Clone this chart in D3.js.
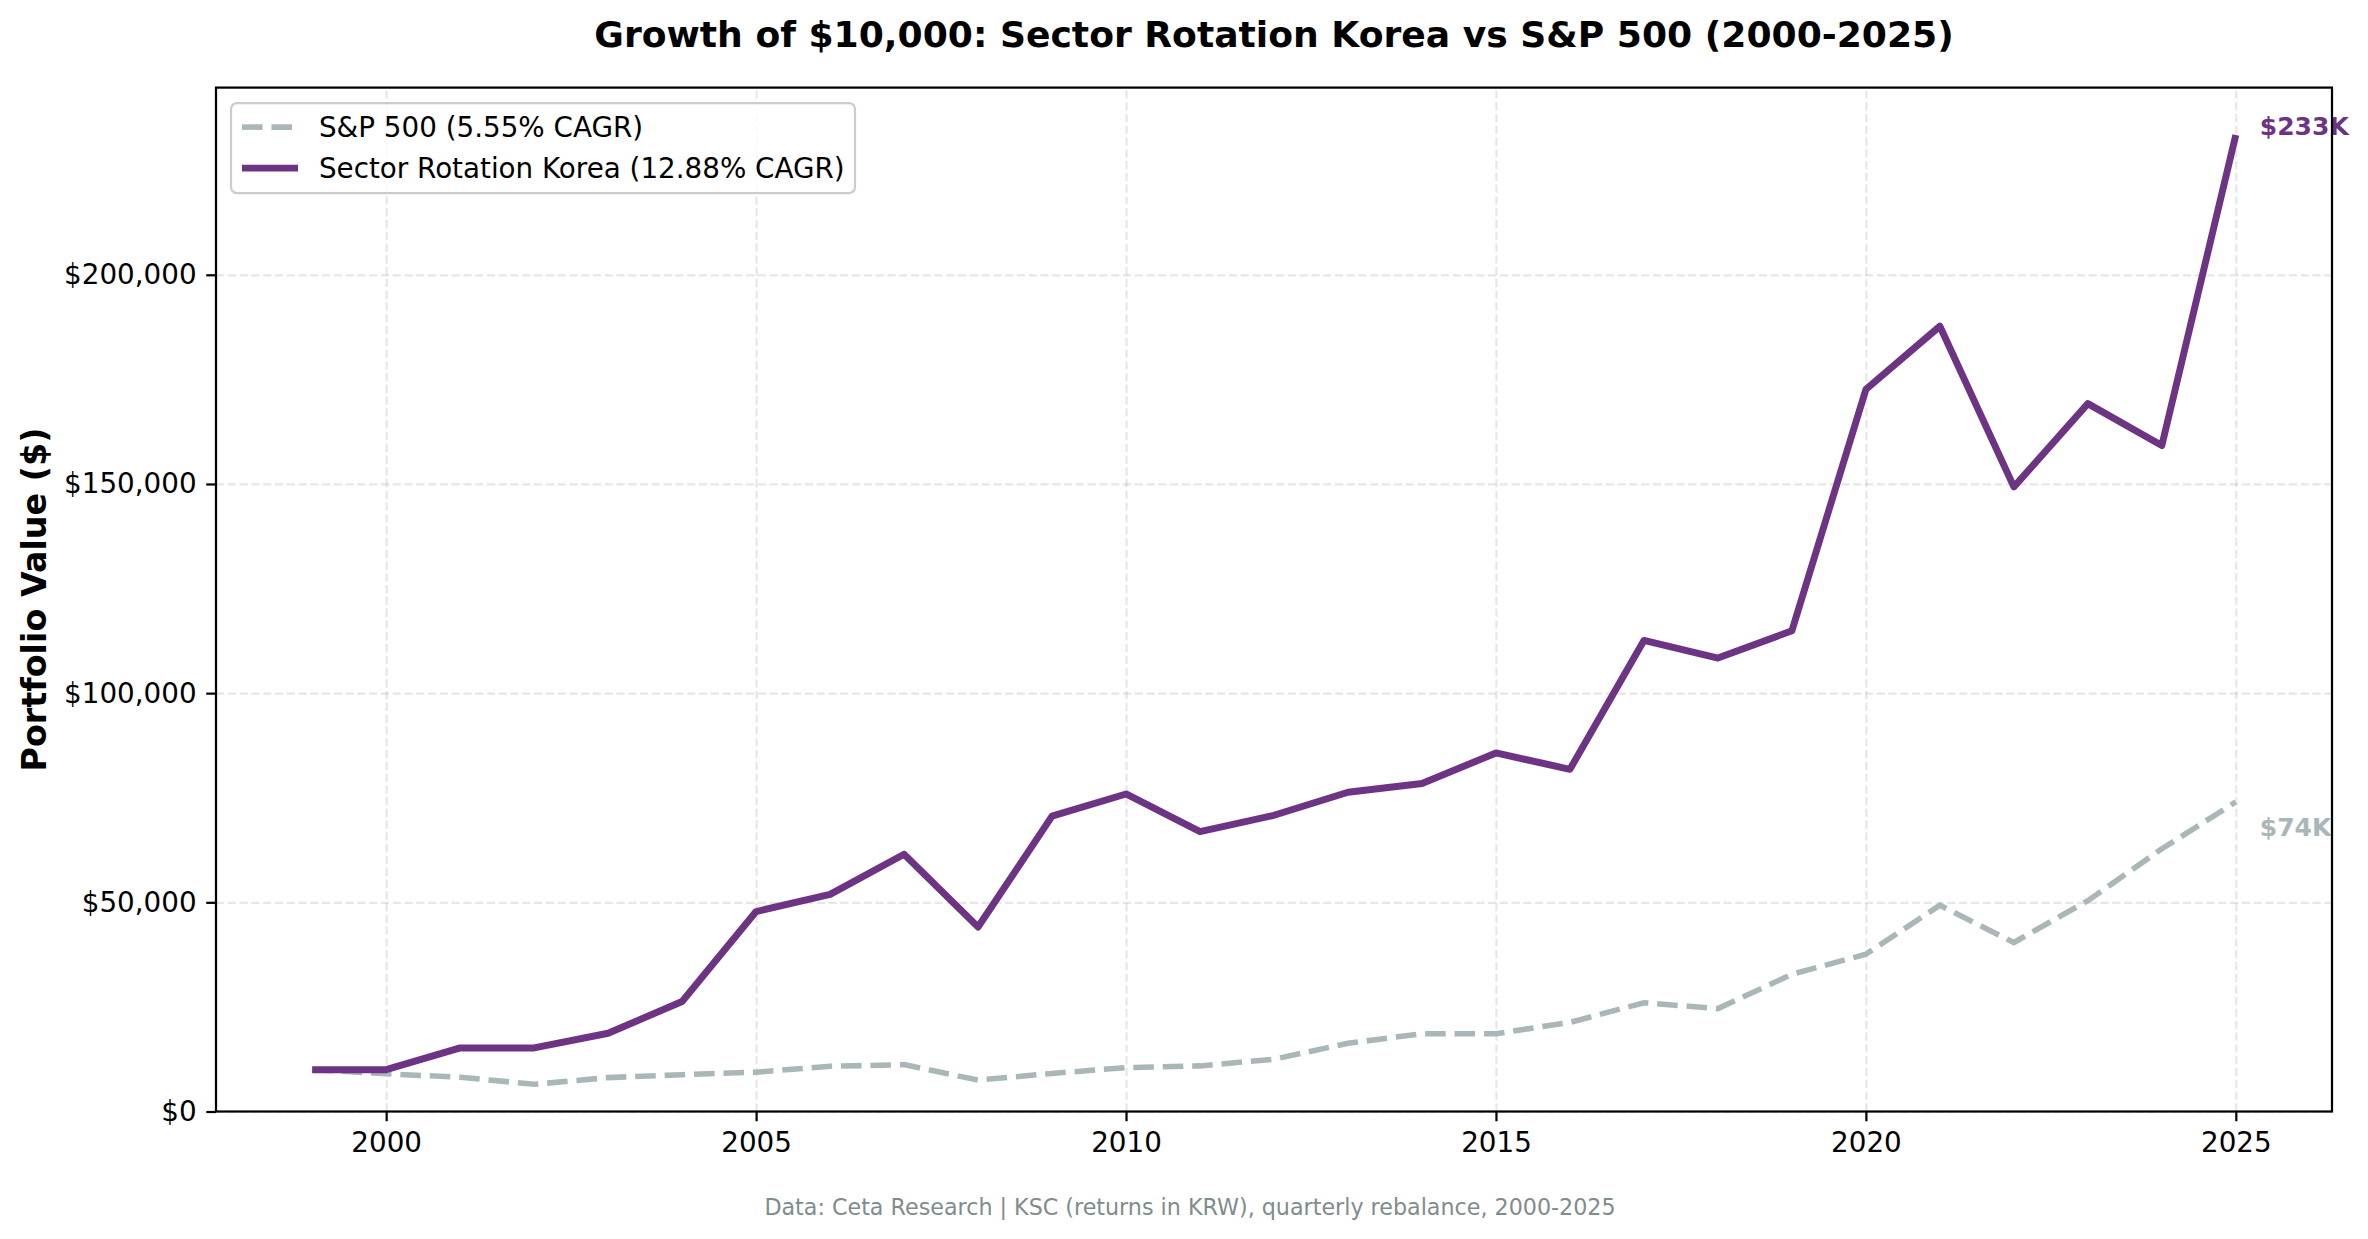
<!DOCTYPE html>
<html>
<head>
<meta charset="utf-8">
<script src="https://cdn.jsdelivr.net/npm/d3@7"></script>
<style>
  body { margin: 0; background: #fff; }
  text { font-family: "DejaVu Sans", sans-serif; }
</style>
</head>
<body>
<div class="vis-growth"></div>
<script>
const years = [1999, 2000, 2001, 2002, 2003, 2004, 2005, 2006, 2007, 2008, 2009, 2010, 2011, 2012,
    2013, 2014, 2015, 2016, 2017, 2018, 2019, 2020, 2021, 2022, 2023, 2024, 2025];
const strategyValues = [10000, 10000, 15200, 15200, 18700, 26300, 47800, 51900, 61500, 44100, 70600, 75900, 66900, 70800,
    76300, 78400, 85700, 81800, 112600, 108400, 114900, 172600, 187700, 149300, 169200, 159200, 233400];
const spValues = [10000, 9000, 8200, 6500, 8100, 8800, 9400, 10800, 11200, 7500, 9100, 10500, 10900, 12500,
    16300, 18600, 18600, 21300, 26000, 24600, 32800, 37600, 49300, 40400, 50400, 62800, 74000];
const xTicks = [2000, 2005, 2010, 2015, 2020, 2025];
const yTicks = [0, 50000, 100000, 150000, 200000];
const seriesNames = ['S&P 500 (5.55% CAGR)', 'Sector Rotation Korea (12.88% CAGR)'];
const endLabels = ['$74K', '$233K'];

const width = 2368;
const height = 1239;
const margin = { top: 87.6, right: 36, bottom: 127.5, left: 216 };
const innerWidth = width - margin.left - margin.right;
const innerHeight = height - margin.top - margin.bottom;

// sizes at 200 dpi
const pt = 200 / 72;
const purple = '#6c3483';
const grey = '#aab7b8';

const svg = d3.select('.vis-growth').append('svg')
    .attr('width', width)
    .attr('height', height)
    .style('display', 'block');

svg.append('rect').attr('width', width).attr('height', height).attr('fill', '#fff');

const allValues = strategyValues.concat(spValues);
const vMin = d3.min(allValues);
const vMax = d3.max(allValues);
const yearSpan = years[years.length - 1] - years[0];

const xScale = d3.scaleLinear()
    .domain([years[0] - 0.05 * yearSpan, years[years.length - 1] + 0.05 * yearSpan])
    .range([0, innerWidth]);

const yScale = d3.scaleLinear()
    .domain([0, vMax + 0.05 * (vMax - vMin)])
    .range([innerHeight, 0]);

const g = svg.append('g')
    .attr('transform', `translate(${margin.left},${margin.top})`);

// grid
const xGrid = g.append('g')
    .attr('transform', `translate(0,${innerHeight})`)
    .call(d3.axisBottom(xScale).tickValues(xTicks).tickSize(-innerHeight).tickFormat(''));
const yGrid = g.append('g')
    .call(d3.axisLeft(yScale).tickValues(yTicks).tickSize(-innerWidth).tickFormat(''));
[xGrid, yGrid].forEach(gr => {
    gr.select('.domain').remove();
    gr.selectAll('text').remove();
    gr.selectAll('line')
        .attr('stroke', '#b0b0b0')
        .attr('stroke-opacity', 0.3)
        .attr('stroke-width', 0.8 * pt)
        .attr('stroke-dasharray', `${2.96 * pt},${1.28 * pt}`);
});

const line = d3.line()
    .x(d => xScale(d[0]))
    .y(d => yScale(d[1]));

const spData = years.map((y, i) => [y, spValues[i]]);
const stratData = years.map((y, i) => [y, strategyValues[i]]);

const spDash = `${7.4 * pt},${3.2 * pt}`;

g.append('path')
    .datum(spData)
    .attr('d', line)
    .attr('fill', 'none')
    .attr('stroke', grey)
    .attr('stroke-width', 2 * pt)
    .attr('stroke-dasharray', spDash);

g.append('path')
    .datum(stratData)
    .attr('d', line)
    .attr('fill', 'none')
    .attr('stroke', purple)
    .attr('stroke-width', 2.5 * pt)
    .attr('stroke-linejoin', 'round');

// end labels
const lastYear = years[years.length - 1];
g.append('text')
    .attr('x', xScale(lastYear) + 24)
    .attr('y', yScale(strategyValues[strategyValues.length - 1]) - 9)
    .attr('dy', '0.35em')
    .attr('fill', purple)
    .attr('font-size', 9 * pt)
    .attr('font-weight', 'bold')
    .text(endLabels[1]);

g.append('text')
    .attr('x', xScale(lastYear) + 24)
    .attr('y', yScale(spValues[spValues.length - 1]) + 25)
    .attr('dy', '0.35em')
    .attr('fill', grey)
    .attr('font-size', 9 * pt)
    .attr('font-weight', 'bold')
    .text(endLabels[0]);

// axes
const xAxisG = g.append('g')
    .attr('transform', `translate(0,${innerHeight})`)
    .call(d3.axisBottom(xScale).tickValues(xTicks).tickSize(3.5 * pt).tickPadding(3.5 * pt).tickFormat(d3.format('d')));
const yAxisG = g.append('g')
    .call(d3.axisLeft(yScale).tickValues(yTicks).tickSize(3.5 * pt).tickPadding(3.5 * pt).tickFormat(d => '$' + d3.format(',')(d)));

[xAxisG, yAxisG].forEach(ax => {
    ax.select('.domain').remove();
    ax.selectAll('line').attr('stroke', '#000').attr('stroke-width', 0.8 * pt);
    ax.selectAll('text')
        .attr('fill', '#000')
        .attr('font-size', 10 * pt)
        .style('font-family', '"DejaVu Sans", sans-serif');
});
xAxisG.selectAll('text').attr('dy', '0.76em');

// frame
g.append('rect')
    .attr('width', innerWidth)
    .attr('height', innerHeight)
    .attr('fill', 'none')
    .attr('stroke', '#000')
    .attr('stroke-width', 0.8 * pt);

// legend
const legend = g.append('g')
    .attr('transform', 'translate(15,15.5)');

legend.append('rect')
    .attr('width', 624)
    .attr('height', 90)
    .attr('rx', 6)
    .attr('fill', '#fff')
    .attr('fill-opacity', 0.8)
    .attr('stroke', '#cccccc')
    .attr('stroke-width', 0.8 * pt);

const legendStyles = [
    { color: grey, width: 2 * pt, dash: spDash },
    { color: purple, width: 2.5 * pt, dash: null }
];

seriesNames.forEach((name, i) => {
    const row = legend.append('g')
        .attr('transform', `translate(0, ${24 + i * 41})`);
    row.append('line')
        .attr('x1', 11)
        .attr('x2', 67)
        .attr('stroke', legendStyles[i].color)
        .attr('stroke-width', legendStyles[i].width)
        .attr('stroke-dasharray', legendStyles[i].dash);
    row.append('text')
        .attr('x', 88)
        .attr('dy', '0.35em')
        .attr('font-size', 10 * pt)
        .attr('fill', '#000')
        .text(name);
});

// titles
svg.append('text')
    .attr('x', margin.left + innerWidth / 2)
    .attr('y', 34)
    .attr('dy', '0.35em')
    .attr('text-anchor', 'middle')
    .attr('font-size', 13 * pt)
    .attr('font-weight', 'bold')
    .text('Growth of $10,000: Sector Rotation Korea vs S&P 500 (2000-2025)');

svg.append('text')
    .attr('transform', `translate(34,${margin.top + innerHeight / 2}) rotate(-90)`)
    .attr('dy', '0.35em')
    .attr('text-anchor', 'middle')
    .attr('font-size', 12 * pt)
    .attr('font-weight', 'bold')
    .text('Portfolio Value ($)');

svg.append('text')
    .attr('x', 1190)
    .attr('y', 1207)
    .attr('dy', '0.35em')
    .attr('text-anchor', 'middle')
    .attr('font-size', 8 * pt)
    .attr('fill', '#7f8c8d')
    .text('Data: Ceta Research | KSC (returns in KRW), quarterly rebalance, 2000-2025');
</script>
</body>
</html>
